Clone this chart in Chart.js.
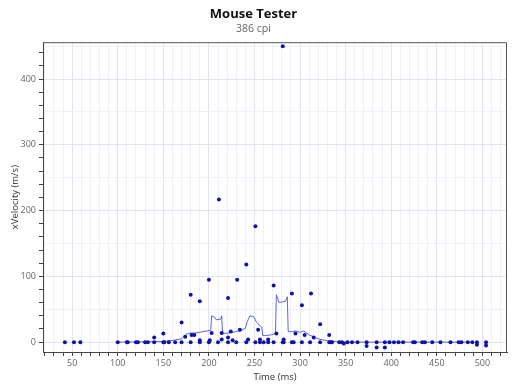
<!DOCTYPE html>
<html>
<head>
<meta charset="utf-8">
<script src="https://cdn.jsdelivr.net/npm/chart.js@4/dist/chart.umd.min.js"></script>
<style>
html,body{margin:0;padding:0;background:#fff;}
#wrap{width:520px;height:390px;position:relative;}
</style>
</head>
<body>
<div id="wrap"><canvas id="c" width="520" height="390"></canvas></div>
<script>
// Chart texts
const chartTitle = "Mouse Tester";
const chartSubtitle = "386 cpi";
const xTitle = "Time (ms)";
const yTitle = "xVelocity (m/s)";

// Axis ranges / tick steps
const xRange = [18, 527];
const yRange = [-15, 456];
const xTickStep = 10, xLabelStep = 50;
const yTickStep = 20, yLabelStep = 100, yGridStep = 50;

// Scatter samples: time (ms)
const pointTimes = [
  42,52,59,100,110,111,120,122,130,133,140,150,151,156,163,170,180,190,200,210,
  221,230,241,251,256,260,265,271,281,282,291,293,302,311,322,332,334,335,343,346,
  352,357,363,373,384,393,398,403,408,413,424,426,434,437,445,454,465,474,477,484,
  489,494,504,
  281,211,251,241,231,200,180,190,221,271,291,302,312,322,170,150,140,332,
  174,181,184,203,214,224,234,254,274,295,305,315,
  190,201,214,221,226,243,256,265,282,
  373,384,393,494,504,348
];
// Scatter samples: velocity (m/s)
const pointVelocities = [
  0,0,0,0,0,0,0,0,0,0,0,0,0,0,0,0,0,0,0,0,
  0,0,0,0,0,0,0,0,0,0,0,0,0,0,0,0,0,0,0,0,
  0,0,0,0,0,0,0,0,0,0,0,0,0,0,0,0,0,0,0,0,
  0,0,0,
  450,217,176,118,95,95,72,62,67,86,74,56,74,27,30,13,7,11,
  8,11,11,14,14,16,19,19,13,13,11,7,
  3,3,4,7,3,4,4,4,4,
  -6,-8,-8,-4,-5,-2
];

// Smoothed trace: time (ms)
const lineTimes = [100,125,150,162,170,175,180,185,190,194,198,202,203,206,208,213,214,215,222,230,
  237,240,242,245,249,252,255,258,259,262,268,273,274,277,280,284,286,287,292,295,
  300,304,310,315,320,330,340,350,400,450,490];
// Smoothed trace: velocity (m/s)
const lineVelocities = [0,0.5,1,3,5,12,14,14,15,16,17,18,40,38,34,35,40,13,14,16,
  19,21,31,40,39,31,26,23,10,10,11,13,72,60,61,62,69,16,16,17,
  15,17,11,8,5,2,1,0,0,0,0];

const scatterData = pointTimes.map((t,i)=>({x:t,y:pointVelocities[i]}));
const lineData = lineTimes.map((t,i)=>({x:t,y:lineVelocities[i]}));

const frame = {
  id:'frame',
  afterDraw(chart){
    const {ctx, chartArea:a} = chart;
    ctx.save();
    ctx.strokeStyle = '#555';
    ctx.lineWidth = 1;
    ctx.beginPath();
    ctx.moveTo(a.left, a.top+0.5);
    ctx.lineTo(a.right-0.5, a.top+0.5);
    ctx.lineTo(a.right-0.5, a.bottom);
    ctx.stroke();
    ctx.restore();
  }
};

const FONT = "'Open Sans', 'Noto Sans', sans-serif";

new Chart(document.getElementById('c'), {
  type: 'scatter',
  data: {
    datasets: [
      {
        label: 'points',
        data: scatterData,
        pointRadius: 2,
        pointHoverRadius: 2,
        pointBackgroundColor: '#1212a6',
        pointBorderColor: '#1212a6',
        borderWidth: 0,
        showLine: false
      },
      {
        label: 'trace',
        data: lineData,
        showLine: true,
        pointRadius: 0,
        borderColor: 'rgba(70,70,225,0.85)',
        borderWidth: 1,
        tension: 0,
        fill: false
      }
    ]
  },
  plugins: [frame],
  options: {
    responsive: false,
    animation: false,
    layout: { padding: { left: 0, right: 13, top: 0, bottom: 0 } },
    plugins: {
      legend: { display: false },
      tooltip: { enabled: false },
      title: {
        display: true, text: chartTitle, color: '#111',
        font: { family: FONT, size: 13, weight: 'bold' },
        padding: { top: 6, bottom: 1 }
      },
      subtitle: {
        display: true, text: chartSubtitle, color: '#666',
        font: { family: FONT, size: 10.5 },
        padding: { top: 0, bottom: 7 }
      }
    },
    scales: {
      x: {
        type: 'linear', min: xRange[0], max: xRange[1],
        afterBuildTicks: s => {
          const arr = [];
          for (let v = Math.ceil(xRange[0]/xTickStep)*xTickStep; v <= xRange[1]; v += xTickStep) arr.push({value:v});
          s.ticks = arr;
        },
        afterFit: s => { s.height = 38; },
        ticks: {
          autoSkip: false, maxRotation: 0, padding: 2,
          color: '#666', font: { family: FONT, size: 9 },
          callback: v => (v % xLabelStep === 0 ? String(v) : '')
        },
        grid: {
          color: ctx => (ctx.tick && ctx.tick.value % xLabelStep === 0) ? '#e2e5ee' : '#eff1f6',
          tickColor: '#444', tickLength: 4, lineWidth: 1
        },
        border: { display: true, color: '#444', width: 1 },
        title: {
          display: true, text: xTitle, color: '#333',
          font: { family: FONT, size: 9.5 },
          padding: { top: 0, bottom: 7 }
        }
      },
      y: {
        type: 'linear', min: yRange[0], max: yRange[1],
        afterBuildTicks: s => {
          const arr = [];
          for (let v = 0; v <= yRange[1]; v += 10) arr.push({value:v});
          s.ticks = arr;
        },
        afterFit: s => { s.width = 43; },
        ticks: {
          autoSkip: false, padding: 3,
          color: '#666', font: { family: FONT, size: 9 },
          callback: v => (v % yLabelStep === 0 ? String(v) : '')
        },
        grid: {
          color: ctx => {
            if (!ctx.tick) return 'rgba(0,0,0,0)';
            const v = ctx.tick.value;
            if (v % yLabelStep === 0) return '#e2e5ee';
            if (v % yGridStep === 0) return '#eff1f6';
            return 'rgba(0,0,0,0)';
          },
          tickColor: ctx => (ctx.tick && ctx.tick.value % yTickStep === 0) ? '#444' : 'rgba(0,0,0,0)',
          tickLength: 4, lineWidth: 1
        },
        border: { display: true, color: '#444', width: 1 },
        title: {
          display: true, text: yTitle, color: '#333',
          font: { family: FONT, size: 9.5 },
          padding: { top: 10, bottom: 0 }
        }
      }
    }
  }
});
</script>
</body>
</html>
